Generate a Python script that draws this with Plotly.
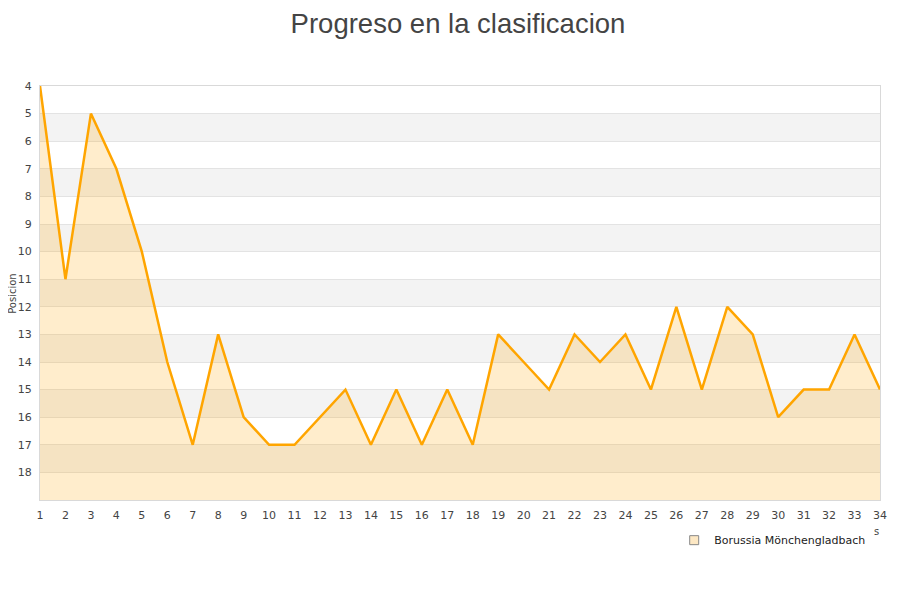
import plotly.graph_objects as go

# jornadas y posiciones
jornadas = list(range(1, 35))
posiciones = [4, 11, 5, 7, 10, 14, 17, 13, 16, 17, 17, 16, 15, 17, 15, 17, 15, 17,
              13, 14, 15, 13, 14, 13, 15, 12, 15, 12, 13, 16, 15, 15, 13, 15]
equipo = 'Borussia Mönchengladbach'
y_ticks = list(range(4, 19))

fig = go.Figure()

# baseline for the fill (bottom of the chart)
fig.add_trace(go.Scatter(
    x=jornadas, y=[19] * len(jornadas), mode='lines',
    line=dict(width=0), hoverinfo='skip', showlegend=False
))

fig.add_trace(go.Scatter(
    x=jornadas, y=posiciones, mode='lines', name=equipo,
    line=dict(color='#FFA500', width=2.5),
    fill='tonexty', fillcolor='rgba(255,165,0,0.2)',
    showlegend=False
))

# legend entry with square symbol
fig.add_trace(go.Scatter(
    x=[None], y=[None], mode='markers', name=equipo,
    marker=dict(symbol='square', size=9, color='#FDE8C4',
                line=dict(color='#888888', width=1))
))

# alternating bands
shapes = []
for y0 in range(5, 19, 2):
    shapes.append(dict(type='rect', xref='paper', yref='y', x0=0, x1=1,
                       y0=y0, y1=y0 + 1, fillcolor='#F3F3F3',
                       line=dict(width=0), layer='below'))

fig.update_layout(
    width=900, height=600,
    margin=dict(l=32, r=28, t=78, b=108),
    paper_bgcolor='white', plot_bgcolor='white',
    font=dict(family='DejaVu Sans', size=11, color='#444444'),
    title=dict(text='Progreso en la clasificacion', x=0.5, xanchor='center',
               y=0.99, yanchor='top', pad=dict(t=0),
               font=dict(family='Liberation Sans', size=27.5, color='#444444')),
    shapes=shapes,
    showlegend=True,
    legend=dict(x=0.755, y=-0.097, xanchor='left', yanchor='middle',
                font=dict(size=11, color='#222222'), bgcolor='rgba(0,0,0,0)'),
    annotations=[
        dict(text='Posicion', xref='paper', yref='paper', x=-0.0335, y=0.5,
             xanchor='center', yanchor='middle', textangle=-90, showarrow=False,
             font=dict(size=10, color='#444444')),
        dict(text='s', xref='paper', yref='paper', x=0.996, y=-0.075,
             xanchor='center', yanchor='middle',
             showarrow=False, font=dict(size=10, color='#444444')),
    ],
)

fig.update_xaxes(
    range=[1, 34], tickmode='array', tickvals=jornadas,
    showgrid=False, zeroline=False, automargin=False,
    showline=True, linecolor='#D9D9D9', linewidth=1, mirror=True,
    ticks='', ticklabelstandoff=5
)

fig.update_yaxes(
    range=[19, 4], tickmode='array', tickvals=y_ticks,
    showgrid=True, gridcolor='#E3E3E3', gridwidth=1, zeroline=False,
    automargin=False,
    showline=True, linecolor='#D9D9D9', linewidth=1, mirror=True,
    ticks='', ticklabelstandoff=5
)

fig.write_html('out.html')
